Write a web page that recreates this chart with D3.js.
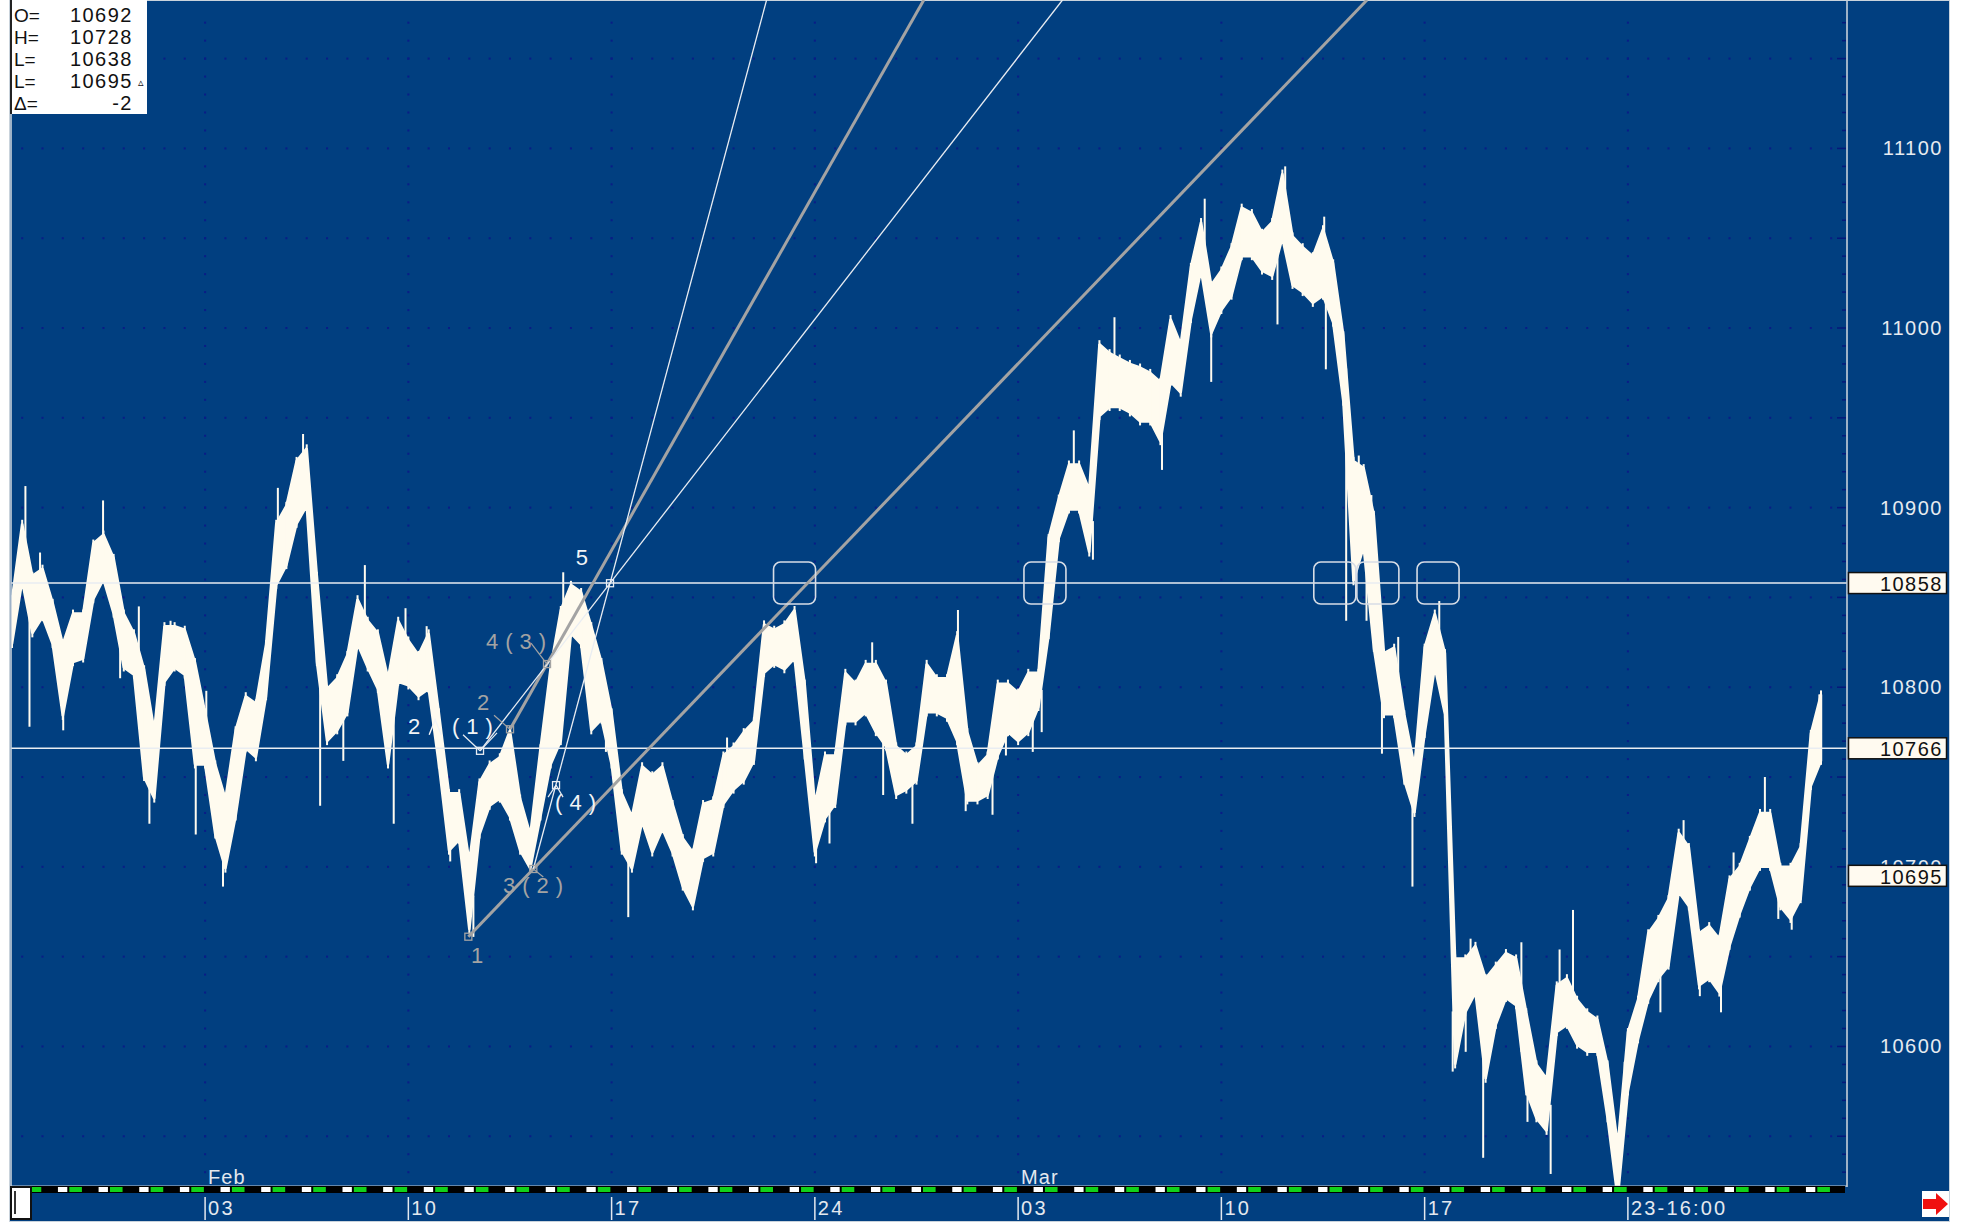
<!DOCTYPE html>
<html>
<head>
<meta charset="utf-8">
<script src="https://cdn.jsdelivr.net/npm/d3@7"></script>
<style>
body { margin: 0; background: #ffffff; }
svg text { font-family: "Liberation Sans", Arial, sans-serif; }
</style>
</head>
<body>
<div id="chart"></div>
<script>
// sample times are trading days counted from Mon 03 Feb, one sample every quarter day
const startT = -4.75;
const stepT = 0.25;

// upper and lower edge of the price band for every sample
const bandHi = [10849,10891,10862,10866,10847,10824,10841,10841,10880,10885,
  10872,10841,10830,10810,10776,10834,10834,10832,10814,10786,
  10757,10738,10776,10795,10791,10824,10891,10901,10926,10933,
  10862,10799,10805,10818,10849,10837,10830,10805,10837,10826,
  10818,10830,10786,10741,10741,10703,10747,10757,10761,10776,
  10738,10718,10766,10811,10843,10857,10853,10834,10814,10786,
  10741,10728,10756,10751,10756,10735,10716,10708,10735,10737,
  10762,10767,10775,10781,10835,10832,10835,10843,10802,10735,
  10762,10762,10808,10802,10813,10813,10802,10767,10762,10767,
  10813,10805,10805,10829,10775,10756,10762,10802,10802,10797,
  10808,10808,10883,10905,10924,10924,10910,10991,10986,10983,
  10980,10978,10975,10970,11005,10991,11034,11059,11024,11032,
  11045,11067,11064,11053,11059,11086,11051,11045,11040,11055,
  11036,10996,10926,10922,10896,10819,10822,10785,10756,10822,
  10841,10819,10649,10649,10656,10638,10645,10652,10649,10619,
  10590,10582,10634,10638,10626,10619,10615,10590,10545,10608,
  10626,10663,10671,10682,10719,10711,10663,10667,10660,10693,
  10700,10715,10730,10730,10700,10700,10711,10774,10796];
const bandLo = [10824,10859,10830,10839,10824,10784,10814,10816,10849,10860,
  10841,10811,10807,10750,10738,10803,10811,10807,10757,10757,
  10718,10699,10728,10766,10761,10795,10857,10868,10891,10901,
  10814,10770,10776,10786,10824,10811,10799,10757,10803,10801,
  10795,10799,10757,10709,10715,10665,10718,10734,10738,10728,
  10709,10699,10728,10757,10770,10830,10824,10776,10782,10757,
  10709,10699,10725,10708,10721,10708,10689,10678,10705,10708,
  10735,10743,10748,10759,10808,10813,10810,10816,10762,10708,
  10727,10735,10781,10781,10786,10775,10767,10740,10743,10748,
  10786,10786,10783,10770,10737,10737,10740,10762,10775,10770,
  10775,10789,10829,10883,10899,10899,10875,10951,10956,10956,
  10953,10948,10948,10937,10970,10964,11005,11032,10997,11010,
  11018,11040,11040,11032,11029,11050,11024,11020,11014,11018,
  11003,10959,10859,10878,10822,10785,10785,10748,10730,10774,
  10811,10785,10590,10619,10630,10582,10612,10627,10623,10575,
  10560,10553,10608,10612,10601,10597,10597,10560,10515,10575,
  10604,10626,10638,10645,10686,10678,10634,10638,10630,10656,
  10674,10689,10700,10700,10678,10671,10682,10745,10759];

// thin single-bar spikes: [time, extreme price]
const spikes = [[-4.42,10912],[-4.32,10778],[-4.06,10875],[-3.49,10776],[-2.51,10904],
  [-2.09,10805],[-1.63,10845],[-1.37,10724],[-0.85,10837],[-0.23,10718],[0.03,10798],
  [0.44,10689],[1.79,10911],[2.41,10941],[2.83,10734],[3.4,10759],[3.93,10868],
  [4.64,10724],[4.93,10844],[5.45,10834],[6.03,10703],[6.6,10661],[8.81,10864],
  [9.86,10764],[10.41,10672],[12.84,10772],[15.03,10702],[15.36,10713],[16.41,10825],
  [16.68,10740],[17.4,10724],[18.52,10843],[18.71,10731],[19.37,10729],[19.7,10762],
  [20.36,10764],[20.58,10775],[21.37,10943],[21.84,10871],[22.37,11006],[23.54,10921],
  [24.59,11072],[24.75,10970],[26.38,11002],[26.57,11090],[27.53,11062],[27.57,10977],
  [28.07,10837],[28.38,10929],[28.57,10837],[28.69,10907],[28.95,10763],[29.35,10828],
  [29.7,10689],[29.96,10772],[30.36,10848],[30.69,10586],[31.01,10597],[31.13,10660],
  [31.44,10538],[32.38,10658],[32.53,10558],[33.1,10529],[33.32,10654],[33.65,10676],
  [34.92,10556],[35.8,10619],[36.37,10726],[36.77,10628],[37.29,10619],[37.6,10708],
  [38.37,10750],[38.7,10671],[39.03,10665],[39.71,10796]];

// axis
const yTicks = [10600, 10700, 10800, 10900, 11000, 11100];
const levelLines = [10858, 10766];
const levelBoxes = [10858, 10766, 10695];
const weekTicks = [0, 5, 10, 15, 20, 25, 30, 35];
const weekLabels = ["03", "10", "17", "24", "03", "10", "17", "23-16:00"];
const monthTicks = [0, 20];
const monthLabels = ["Feb", "Mar"];

// info box
const infoNames = ["O=", "H=", "L=", "L=", "\u0394="];
const infoValues = ["10692", "10728", "10638", "10695", "-2"];

// wave count points: time, price, colour group
const waveT = [6.476, 6.763, 7.501, 8.074, 8.411, 8.633, 9.961];
const wavePrice = [10661.1, 10764.6, 10776.6, 10698.8, 10812.9, 10745.5, 10857.9];
const waveGrey = [true, false, true, true, true, false, false];

// wave labels: text, start time, price, grey?
const labelText = ["1", "2", "(1)", "2", "4(3)", "3(2)", "(4)", "5"];
const labelT = [6.54, 4.99, 6.075, 6.69, 6.911, 7.33, 8.61, 9.12];
const labelPrice = [10650.5, 10778, 10778, 10791.5, 10825.7, 10689.5, 10736, 10872.3];
const labelGrey = [true, false, false, true, true, true, false, false];
// caret between "2" and "(1)"
const caretT = 5.66, caretPrice = 10778;

// fan lines as pairs of wave points (index into wave arrays), thick = grey
const fanFrom = [0, 2, 1, 3];
const fanTo = [3, 4, 6, 6];
const fanThick = [true, true, false, false];

// rounded boxes where price met the 10858 level
const touchT = [14.5, 20.66, 27.79, 28.85, 30.33];
const touchPrice = 10858;

const width = 1964, height = 1223;
const blue = "#013f80";
const cream = "#fffbef";
const grey = "#a3a3a3";
const white = "#e9edf2";

const x = d3.scaleLinear().domain([-4.75, 40.39]).range([12, 1847]);
const y = d3.scaleLinear().domain([10522.3, 11180.4]).range([1186, 4]);

const svg = d3.select("#chart")
  .append("svg")
  .attr("width", width)
  .attr("height", height);

//background panel
svg.append("rect")
  .attr("x", 9.5).attr("y", 0.5)
  .attr("width", 1940).attr("height", 1221)
  .attr("fill", blue)
  .attr("stroke", "#c9d3dc");

svg.append("clipPath").attr("id", "plotclip")
  .append("rect").attr("x", 11).attr("y", 0).attr("width", 1836).attr("height", 1186);

const plot = svg.append("g").attr("clip-path", "url(#plotclip)");

//dotted grid
const gridLevels = d3.range(10550, 11200, 50);
gridLevels.forEach(function (lv) {
  for (let t = -4.5; t < 40.4; t += 0.5) {
    plot.append("rect")
      .attr("x", x(t) - 1).attr("y", y(lv) - 1)
      .attr("width", 2).attr("height", 2)
      .attr("fill", "#0a1c86");
  }
});
weekTicks.forEach(function (t) {
  for (let lv = 10530; lv < 11180; lv += 10) {
    plot.append("rect")
      .attr("x", x(t) - 1).attr("y", y(lv) - 1)
      .attr("width", 2).attr("height", 2)
      .attr("fill", "#0a1c86");
  }
});

//price band
const bandData = bandHi.map(function (h, i) {
  return { t: startT + i * stepT, hi: h, lo: bandLo[i] };
});

const area = d3.area()
  .x(d => x(d.t))
  .y0(d => y(d.lo))
  .y1(d => y(d.hi));

plot.append("path")
  .datum(bandData)
  .attr("d", area)
  .attr("fill", cream)
  .attr("stroke", cream)
  .attr("stroke-width", 2.5)
  .attr("stroke-linejoin", "bevel");

//hairline bars inside the band give it the ragged look
plot.selectAll(".bar")
  .data(bandData)
  .enter()
  .append("line")
  .attr("x1", d => x(d.t)).attr("x2", d => x(d.t))
  .attr("y1", d => y(d.hi) - 4).attr("y2", d => y(d.lo) + 4)
  .attr("stroke", cream)
  .attr("stroke-width", 2);

plot.selectAll(".spike")
  .data(spikes)
  .enter()
  .append("line")
  .attr("x1", d => x(d[0])).attr("x2", d => x(d[0]))
  .attr("y1", function (d) {
    const i = Math.max(0, Math.min(bandHi.length - 1, Math.round((d[0] - startT) / stepT)));
    return y((bandHi[i] + bandLo[i]) / 2);
  })
  .attr("y2", d => y(d[1]))
  .attr("stroke", cream)
  .attr("stroke-width", 2);

//level lines
plot.selectAll(".level")
  .data(levelLines)
  .enter()
  .append("line")
  .attr("x1", 11).attr("x2", 1848)
  .attr("y1", d => y(d)).attr("y2", d => y(d))
  .attr("stroke", white)
  .attr("stroke-width", 1.6);

//fan lines, extended up to the top edge
const wavePx = waveT.map((t, i) => [x(t), y(wavePrice[i])]);
fanFrom.forEach(function (a, i) {
  const p1 = wavePx[a], p2 = wavePx[fanTo[i]];
  const k = (p2[0] - p1[0]) / (p2[1] - p1[1]);
  plot.append("line")
    .attr("x1", p1[0]).attr("y1", p1[1])
    .attr("x2", p1[0] + (0 - p1[1]) * k).attr("y2", 0)
    .attr("stroke", fanThick[i] ? grey : white)
    .attr("stroke-width", fanThick[i] ? 3 : 1.3);
});

//wave points
plot.selectAll(".wp")
  .data(wavePx)
  .enter()
  .append("rect")
  .attr("x", d => d[0] - 3.5).attr("y", d => d[1] - 3.5)
  .attr("width", 7).attr("height", 7)
  .attr("fill", "none")
  .attr("stroke", (d, i) => waveGrey[i] ? grey : white)
  .attr("stroke-width", 1.3);

//little leader strokes from the points to their labels
const leaders = [[1, -17, -16], [1, 17, -18], [2, -16, -14], [4, -16, -21], [3, 10, 8], [5, -8, 12], [5, 7, 12]];
leaders.forEach(function (l) {
  const p = wavePx[l[0]];
  plot.append("line")
    .attr("x1", p[0]).attr("y1", p[1])
    .attr("x2", p[0] + l[1]).attr("y2", p[1] + l[2])
    .attr("stroke", waveGrey[l[0]] ? grey : white)
    .attr("stroke-width", 1.2);
});

const cx = x(caretT), cy = y(caretPrice);
plot.append("path")
  .attr("d", `M${cx - 6},${cy + 8} L${cx},${cy - 7} L${cx + 6},${cy + 8}`)
  .attr("fill", "none")
  .attr("stroke", "#f2f4f6")
  .attr("stroke-width", 1.4);

plot.selectAll(".wl")
  .data(labelText)
  .enter()
  .append("text")
  .attr("x", (d, i) => x(labelT[i]))
  .attr("y", (d, i) => y(labelPrice[i]))
  .attr("dominant-baseline", "central")
  .attr("font-size", "22px")
  .attr("letter-spacing", "7px")
  .attr("fill", (d, i) => labelGrey[i] ? grey : "#f2f4f6")
  .text(d => d);

//touch boxes
plot.selectAll(".touch")
  .data(touchT)
  .enter()
  .append("rect")
  .attr("x", d => x(d) - 21).attr("y", y(touchPrice) - 21)
  .attr("width", 42).attr("height", 42)
  .attr("rx", 7)
  .attr("fill", "none")
  .attr("stroke", "#d7dde6")
  .attr("stroke-width", 1.6);

//month labels
svg.selectAll(".month")
  .data(monthLabels)
  .enter()
  .append("text")
  .attr("x", (d, i) => x(monthTicks[i]) + 3)
  .attr("y", 1184)
  .attr("font-size", "20px")
  .attr("letter-spacing", "1px")
  .attr("fill", "#e4e9ef")
  .text(d => d);

//plot frame
svg.append("line").attr("x1", 1847).attr("x2", 1847).attr("y1", 0).attr("y2", 1187)
  .attr("stroke", "#c6d0da").attr("stroke-width", 1.6);
svg.append("line").attr("x1", 11).attr("x2", 11).attr("y1", 0).attr("y2", 1187)
  .attr("stroke", "#c6d0da").attr("stroke-width", 1.6);
svg.append("line").attr("x1", 11).attr("x2", 1847).attr("y1", 1186).attr("y2", 1186)
  .attr("stroke", "#c6d0da").attr("stroke-width", 1.2);

//y axis ticks
const minorTicks = d3.range(10530, 11180, 10);
svg.selectAll(".ytick")
  .data(minorTicks)
  .enter()
  .append("line")
  .attr("x1", d => d % 50 === 0 ? 1837 : 1842)
  .attr("x2", 1846)
  .attr("y1", d => y(d)).attr("y2", d => y(d))
  .attr("stroke", "#06187a")
  .attr("stroke-width", 1.5);

svg.selectAll(".ylab")
  .data(yTicks)
  .enter()
  .append("text")
  .attr("x", 1943)
  .attr("y", d => y(d))
  .attr("text-anchor", "end")
  .attr("dominant-baseline", "central")
  .attr("font-size", "20px")
  .attr("letter-spacing", "1.5px")
  .attr("fill", "#e6ebf1")
  .text(d => d);

const boxes = svg.selectAll(".lvbox")
  .data(levelBoxes)
  .enter()
  .append("g");
boxes.append("rect")
  .attr("x", 1848.5).attr("y", d => y(d) - 10.5)
  .attr("width", 98).attr("height", 21)
  .attr("fill", "#fffaf0")
  .attr("stroke", "#111")
  .attr("stroke-width", 1.5);
boxes.append("text")
  .attr("x", 1943)
  .attr("y", d => y(d) + 1)
  .attr("text-anchor", "end")
  .attr("dominant-baseline", "central")
  .attr("font-size", "20px")
  .attr("letter-spacing", "1.5px")
  .attr("fill", "#111")
  .text(d => d);

//session strip along the bottom
svg.append("rect").attr("x", 32).attr("y", 1186).attr("width", 1813).attr("height", 7).attr("fill", "#000");
svg.append("clipPath").attr("id", "stripclip")
  .append("rect").attr("x", 32).attr("y", 1186).attr("width", 1813).attr("height", 7);
const strip = svg.append("g").attr("clip-path", "url(#stripclip)");
d3.range(-5, 41).forEach(function (d) {
  strip.append("rect")
    .attr("x", x(d + 0.38)).attr("y", 1187)
    .attr("width", x(d + 0.61) - x(d + 0.38)).attr("height", 5)
    .attr("fill", "#ffffff");
  strip.append("rect")
    .attr("x", x(d + 0.66)).attr("y", 1187)
    .attr("width", x(d + 0.97) - x(d + 0.66)).attr("height", 5)
    .attr("fill", "#12d21a");
});

//date labels
const dates = svg.selectAll(".date")
  .data(weekTicks)
  .enter()
  .append("g");
dates.append("line")
  .attr("x1", d => x(d)).attr("x2", d => x(d))
  .attr("y1", 1197).attr("y2", 1220)
  .attr("stroke", "#e4e9ef")
  .attr("stroke-width", 1.5);
dates.append("text")
  .attr("x", d => x(d) + 3)
  .attr("y", 1215)
  .attr("font-size", "20px")
  .attr("letter-spacing", "2.2px")
  .attr("fill", "#e4e9ef")
  .text((d, i) => weekLabels[i]);

//scroll thumb on the left
svg.append("rect").attr("x", 11).attr("y", 1187).attr("width", 20).attr("height", 32)
  .attr("fill", "#ffffff").attr("stroke", "#111").attr("stroke-width", 2);
svg.append("line").attr("x1", 15).attr("x2", 15).attr("y1", 1191).attr("y2", 1214)
  .attr("stroke", "#333").attr("stroke-width", 2);

//red arrow on the right
svg.append("rect").attr("x", 1922).attr("y", 1191).attr("width", 27).attr("height", 26).attr("fill", "#ffffff");
svg.append("path")
  .attr("d", "M1923,1199 L1936,1199 L1936,1193 L1948,1204 L1936,1215 L1936,1209 L1923,1209 Z")
  .attr("fill", "#f01010");

//info box
svg.append("rect").attr("x", 11).attr("y", 0).attr("width", 136).attr("height", 114).attr("fill", "#ffffff");
svg.append("line").attr("x1", 11).attr("x2", 11).attr("y1", 0).attr("y2", 114)
  .attr("stroke", "#222").attr("stroke-width", 2);
infoNames.forEach(function (n, i) {
  svg.append("text")
    .attr("x", 14).attr("y", 15 + i * 22)
    .attr("dominant-baseline", "central")
    .attr("font-size", "19px")
    .attr("fill", "#111")
    .text(n);
  svg.append("text")
    .attr("x", 133).attr("y", 15 + i * 22)
    .attr("text-anchor", "end")
    .attr("dominant-baseline", "central")
    .attr("font-size", "20px")
    .attr("letter-spacing", "1.5px")
    .attr("fill", "#111")
    .text(infoValues[i]);
});
svg.append("text")
  .attr("x", 141).attr("y", 86)
  .attr("text-anchor", "middle")
  .attr("font-size", "11px")
  .attr("fill", "#111")
  .text("\u25B5");
</script>
</body>
</html>
